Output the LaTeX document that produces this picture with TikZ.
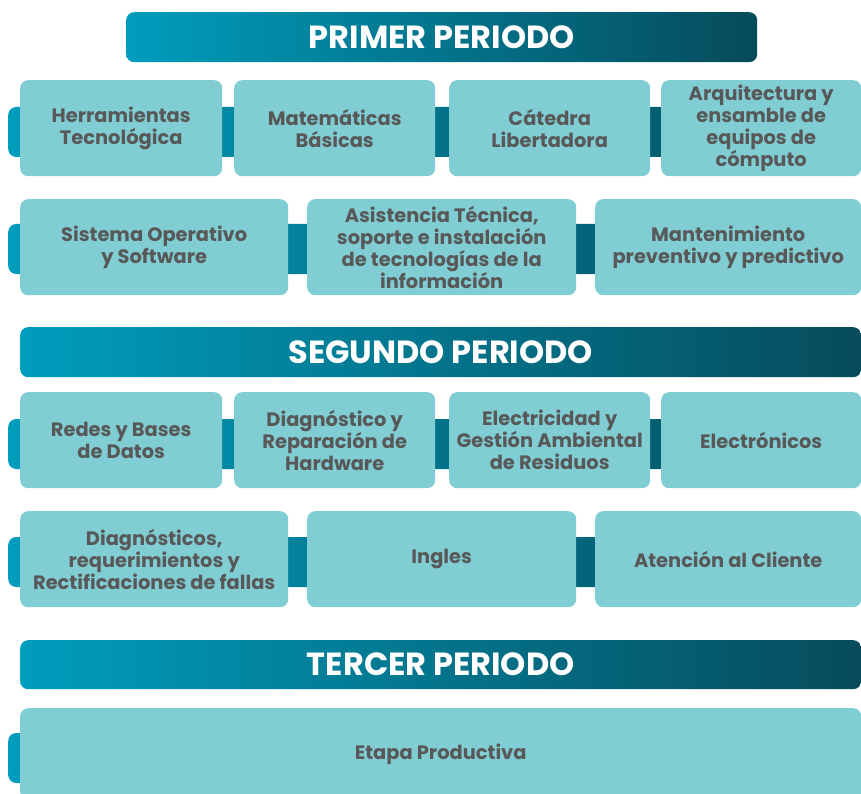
\documentclass[tikz,border=0pt]{standalone}
\usepackage{fontspec}
\setmainfont{Poppins}
\usepackage{tikz}
\usepackage{xcolor}
\usetikzlibrary{positioning}

\definecolor{celeste}{HTML}{80CDD3}
\definecolor{grisTexto}{HTML}{585858}
\definecolor{cianClaro}{HTML}{009DBD}
\definecolor{petroleo}{HTML}{064B5B}

\tikzset{
  materia/.style={rectangle, rounded corners=8pt, fill=celeste, text=grisTexto,
    font=\bfseries\fontsize{19.4}{22}\selectfont, align=center, inner sep=1pt,
    minimum height=96pt, anchor=north west},
  titulo/.style={rectangle, rounded corners=8pt, left color=cianClaro, right color=petroleo,
    text=white, font=\bfseries\fontsize{32}{34}\selectfont, minimum height=50pt,
    inner sep=0pt, anchor=north west},
  riel/.style={rectangle, rounded corners=8pt, left color=cianClaro, right color=petroleo,
    minimum height=50pt, minimum width=853pt, inner sep=0pt, anchor=west},
}

\begin{document}
\begin{tikzpicture}[x=1pt, y=-1pt]

    \useasboundingbox (0,0) rectangle (861,794);

    % rieles detras de cada fila
    \node[riel] (r1) at (8,132) {};
    \node[riel] (r2) at (8,249) {};
    \node[riel] (r3) at (8,444) {};
    \node[riel] (r4) at (8,562) {};
    \node[riel] (r5) at (8,758) {};

    % primer periodo
    \node[titulo, minimum width=631pt] (t1) at (126,12) {PRIMER PERIODO};

    \node[materia, minimum width=202pt] (herr) at (20,80) {Herramientas\\Tecnológica};
    \node[materia, minimum width=201pt] (mate) at (234,80) {Matemáticas\\Básicas};
    \node[materia, minimum width=201pt] (cate) at (449,80) {Cátedra\\Libertadora};
    \node[materia, minimum width=200pt] (arqu) at (661,80) {Arquitectura y\\ensamble de\\equipos de\\cómputo};

    \node[materia, minimum width=268pt] (sist) at (20,199) {Sistema Operativo\\y Software};
    \node[materia, minimum width=269pt] (asis) at (307,199) {Asistencia Técnica,\\soporte e instalación\\de tecnologías de la\\información};
    \node[materia, minimum width=266pt] (mant) at (595,199) {Mantenimiento\\preventivo y predictivo};

    % segundo periodo
    \node[titulo, minimum width=841pt] (t2) at (20,327) {SEGUNDO PERIODO};

    \node[materia, minimum width=202pt] (rede) at (20,392) {Redes y Bases\\de Datos};
    \node[materia, minimum width=201pt] (diag) at (234,392) {Diagnóstico y\\Reparación de\\Hardware};
    \node[materia, minimum width=201pt] (elec) at (449,392) {Electricidad y\\Gestión Ambiental\\de Residuos};
    \node[materia, minimum width=200pt] (eltr) at (661,392) {Electrónicos};

    \node[materia, minimum width=268pt] (falla) at (20,511) {Diagnósticos,\\requerimientos y\\Rectificaciones de fallas};
    \node[materia, minimum width=269pt] (ingl) at (307,511) {Ingles};
    \node[materia, minimum width=266pt] (aten) at (595,511) {Atención al Cliente};

    % tercer periodo
    \node[titulo, minimum width=841pt, minimum height=49pt] (t3) at (20,640) {TERCER PERIODO};

    \node[materia, minimum width=841pt, minimum height=92pt] (etapa) at (20,708) {Etapa Productiva};

\end{tikzpicture}
\end{document}
